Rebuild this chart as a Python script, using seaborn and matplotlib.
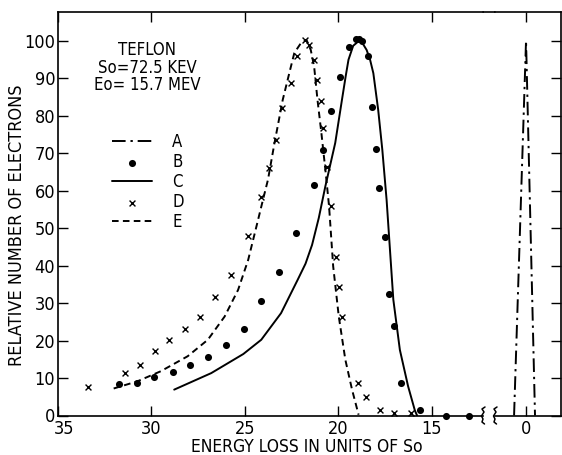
import matplotlib
matplotlib.use("Agg")
import matplotlib.pyplot as plt
import matplotlib.transforms as mtransforms
import seaborn as sns
from matplotlib.lines import Line2D

sns.set_style("ticks")
plt.rcParams['font.family'] = ['DejaVu Sans']
plt.rcParams['font.stretch'] = 'condensed'
plt.rcParams['text.color'] = 'k'
plt.rcParams['axes.labelcolor'] = 'k'
plt.rcParams['xtick.color'] = 'k'
plt.rcParams['ytick.color'] = 'k'

# ---- data ----
# A: dash-dot spike at zero energy loss
a_x = [0.64, 0.0, -0.48]
a_y = [0.0, 100.0, 0.0]

# B: dots
b_x = [31.75, 30.79, 29.86, 28.87, 27.92, 26.98, 25.99, 25.05, 24.12, 23.18,
       22.26, 21.32, 20.79, 20.37, 19.88, 19.44, 19.05, 18.90, 18.75, 18.43,
       18.17, 17.97, 17.80, 17.52, 17.27, 17.04, 16.62, 15.62, 14.25, 13.0]
b_y = [8.4, 8.8, 10.4, 11.6, 13.5, 15.5, 18.7, 23.0, 30.6, 38.2,
       48.7, 61.5, 70.9, 81.1, 90.3, 98.3, 100.3, 100.5, 100.0, 95.8,
       82.3, 71.1, 60.7, 47.6, 32.4, 23.9, 8.7, 1.4, 0.0, 0.0]

# C: solid curve
c_x = [28.78, 26.80, 25.08, 24.12, 23.06, 22.17, 21.75, 21.40, 21.04, 20.69,
       20.16, 19.80, 19.60, 19.45, 19.20, 18.92, 18.70, 18.48, 18.30, 18.12,
       17.86, 17.64, 17.41, 17.23, 17.05, 16.70, 16.26, 15.90, 15.78]
c_y = [6.9, 11.3, 16.4, 20.2, 27.3, 36.2, 40.5, 45.5, 52.7, 61.1,
       72.7, 84.2, 90.5, 94.9, 98.6, 99.8, 99.3, 97.5, 95.0, 91.3,
       81.5, 70.9, 57.5, 44.2, 30.9, 17.5, 7.8, 1.4, 0.0]

# D: crosses
d_x = [33.37, 31.44, 30.63, 29.80, 29.05, 28.19, 27.39, 26.57, 25.76, 24.82,
       24.12, 23.73, 23.32, 23.02, 22.55, 22.20, 21.76, 21.55, 21.32, 21.16,
       20.93, 20.79, 20.58, 20.37, 20.14, 19.97, 19.79, 18.94, 18.51, 17.76,
       17.00, 16.13]
d_y = [7.6, 11.3, 13.6, 17.1, 20.1, 23.1, 26.3, 31.6, 37.4, 48.0,
       58.4, 66.0, 73.5, 82.0, 88.7, 95.8, 100.2, 98.9, 94.9, 89.5,
       83.8, 76.7, 66.4, 55.9, 42.4, 34.3, 26.2, 8.8, 4.9, 1.5,
       0.8, 0.8]

# E: dashed curve
e_x = [32.02, 30.76, 29.50, 28.06, 26.98, 26.08, 25.36, 24.82, 24.29, 24.03,
       23.76, 23.41, 22.97, 22.62, 22.35, 22.00, 21.70, 21.47, 21.29, 21.11,
       20.90, 20.67, 20.49, 20.27, 19.97, 19.62, 19.26, 18.91]
e_y = [7.2, 9.1, 11.8, 15.8, 20.2, 26.4, 33.5, 41.5, 52.2, 57.5,
       62.9, 72.7, 84.2, 91.3, 96.7, 99.3, 100.2, 97.5, 93.1, 84.2,
       75.3, 64.7, 55.8, 39.8, 26.4, 14.9, 6.9, 0.2]

left_ticks = [35, 30, 25, 20, 15]
right_ticks = [0]
y_ticks = list(range(0, 101, 10))

# ---- figure ----
W, H = 562, 455
fig = plt.figure(figsize=(W / 100, H / 100), dpi=100)
bot, top = 415.5, 11.7
ax = fig.add_axes([58 / W, (H - bot) / H, (483 - 58) / W, (bot - top) / H])
ax2 = fig.add_axes([495 / W, (H - bot) / H, (561 - 495) / W, (bot - top) / H])

lw = 1.4
sns.lineplot(x=c_x, y=c_y, ax=ax, color='k', lw=lw, sort=False,
             estimator=None, label='C')
sns.lineplot(x=e_x, y=e_y, ax=ax, color='k', lw=lw, sort=False,
             estimator=None, label='E', linestyle=(0, (3.4, 2.2)))
sns.scatterplot(x=b_x, y=b_y, ax=ax, color='k', marker='o', s=26,
                linewidth=0, label='B', clip_on=False, zorder=5)
sns.scatterplot(x=d_x, y=d_y, ax=ax, color='k', marker='x', s=18,
                linewidth=1.0, label='D', clip_on=False, zorder=5)
sns.lineplot(x=a_x, y=a_y, ax=ax2, color='k', lw=lw, sort=False,
             estimator=None, label='A', linestyle=(0, (7, 2.5, 1.2, 2.5)))

ax.set_xlim(35, 12.25)
ax2.set_xlim(1.66, -1.87)
for a in (ax, ax2):
    a.set_ylim(0, 107.7)
    for s in a.spines.values():
        s.set_linewidth(1.2)
        s.set_color('k')

ax.spines['right'].set_visible(False)
ax2.spines['left'].set_visible(False)

ax.set_xticks(left_ticks)
ax.set_xticklabels([str(t) for t in left_ticks])
ax.set_yticks(y_ticks)
ax.set_yticklabels([str(t) for t in y_ticks])
ax.tick_params(axis='both', direction='in', length=7, width=1.0,
               labelsize=13, pad=2, top=True, right=False)
ax.tick_params(axis='x', pad=3)
# the "35" label sits a little to the right of the corner
lab35 = ax.get_xticklabels()[0]
lab35.set_transform(lab35.get_transform() +
                    mtransforms.ScaledTranslation(6 / 100, 0, fig.dpi_scale_trans))

ax2.set_xticks(right_ticks)
ax2.set_xticklabels(['0'])
ax2.set_yticks(y_ticks)
ax2.tick_params(axis='both', direction='in', length=7, width=1.0,
                labelsize=13, pad=3, top=True, left=False, right=True,
                labelleft=False)
ax2.set_ylabel('')
ax2.set_xlabel('')

ax.set_xlabel('ENERGY LOSS IN UNITS OF So', fontsize=12.5)
ax.xaxis.set_label_coords(0.586, -0.056)
ax.set_ylabel('RELATIVE NUMBER OF ELECTRONS', fontsize=13)
ax.yaxis.set_label_coords(-0.075, 0.472)

# continue top frame over the break and draw break marks
fig.add_artist(Line2D([483 / W, 495 / W], [(H - top) / H] * 2,
                      transform=fig.transFigure, color='k', lw=1.2))
for xb in (483, 495):
    xs = [xb + 2, xb - 1, xb + 1, xb - 1.5, xb, xb - 1, xb + 1.5]
    ys = [407, 409, 412, 416, 419, 422, 424]
    fig.add_artist(Line2D([x / W for x in xs], [(H - y) / H for y in ys],
                          transform=fig.transFigure, color='k', lw=1.1))

# annotation block
fig.text(147 / W, 1 - 50 / H, 'TEFLON', ha='center', va='center', fontsize=12)
fig.text(147 / W, 1 - 68 / H, 'So=72.5 KEV', ha='center', va='center', fontsize=12)
fig.text(147 / W, 1 - 85 / H, 'Eo= 15.7 MEV', ha='center', va='center', fontsize=12)

# legend
h1, l1 = ax.get_legend_handles_labels()
h2, l2 = ax2.get_legend_handles_labels()
pairs = sorted(zip(l1 + l2, h1 + h2), key=lambda p: p[0])
if ax2.get_legend() is not None:
    ax2.get_legend().remove()
ax.legend([p[1] for p in pairs], [p[0] for p in pairs],
          loc='upper left', bbox_to_anchor=(112 / W, 1 - 133 / H),
          bbox_transform=fig.transFigure, frameon=False, fontsize=12,
          borderpad=0, borderaxespad=0, handlelength=2.4, handletextpad=1.2,
          labelspacing=0.12)

fig.savefig('out.png', dpi=100)
